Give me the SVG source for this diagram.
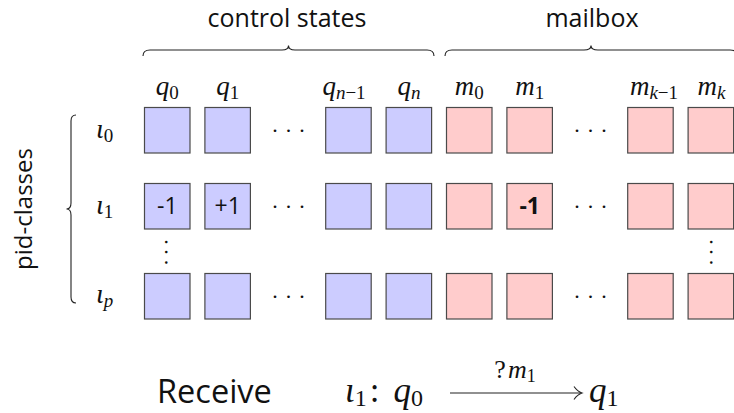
<svg xmlns="http://www.w3.org/2000/svg" width="734" height="413" viewBox="0 0 734 413">
<style>
.bq{fill:#ccccff;stroke:#4a4a4a;stroke-width:1.2}
.bm{fill:#ffcccc;stroke:#4a4a4a;stroke-width:1.2}
.sans{font-family:"Open Sans","DejaVu Sans",sans-serif;fill:#111}
.math{font-family:"Liberation Serif","DejaVu Serif",serif;font-style:italic;fill:#111}
.up{font-style:normal}
.dots{font-family:"Liberation Serif",serif;font-size:22px;fill:#111}
.br{fill:none;stroke:#222;stroke-width:1.1}
.cell{font-family:"Open Sans","DejaVu Sans",sans-serif;font-size:23px;fill:#111;text-anchor:middle}
</style>
<defs>
<rect id="b" width="45.5" height="45.5"/>
</defs>

<g id="headers">
<text class="sans" x="287" y="27" font-size="25" text-anchor="middle">control states</text>
<text class="sans" x="592" y="27" font-size="25" text-anchor="middle">mailbox</text>
<text class="sans" font-size="24" text-anchor="middle" transform="translate(32,209) rotate(-90)">pid-classes</text>
</g>

<g id="braces">
<path class="br" d="M143,56 Q143,50 150,50 L282,50 Q288.5,50 288.5,45.5 Q288.5,50 295,50 L427,50 Q434,50 434,56"/>
<path class="br" d="M445,56 Q445,50 452,50 L584,50 Q591,50 591,45.5 Q591,50 598,50 L730,50 Q737,50 737,56"/>
<path class="br" d="M76,115 Q71,115 71,121 L71,203 Q71,209 66.5,209 Q71,209 71,215 L71,297 Q71,303 76,303"/>
</g>

<g id="col-labels" font-size="27">
<text class="math" x="167.3" y="95" text-anchor="middle">q<tspan class="up" font-size="19" dy="4">0</tspan></text>
<text class="math" x="227.7" y="95" text-anchor="middle">q<tspan class="up" font-size="19" dy="4">1</tspan></text>
<text class="math" x="344" y="95" text-anchor="middle">q<tspan font-size="19" dy="4">n</tspan><tspan class="up" font-size="19">−1</tspan></text>
<text class="math" x="408.9" y="95" text-anchor="middle">q<tspan font-size="19" dy="4">n</tspan></text>
<text class="math" x="469.3" y="95" text-anchor="middle">m<tspan class="up" font-size="19" dy="4">0</tspan></text>
<text class="math" x="529.7" y="95" text-anchor="middle">m<tspan class="up" font-size="19" dy="4">1</tspan></text>
<text class="math" x="654" y="95" text-anchor="middle">m<tspan font-size="19" dy="4">k</tspan><tspan class="up" font-size="19">−1</tspan></text>
<text class="math" x="711.5" y="95" text-anchor="middle">m<tspan font-size="19" dy="4">k</tspan></text>
</g>

<g id="row-labels" font-size="28">
<text class="math" x="96" y="138">ι<tspan class="up" font-size="19" dy="4">0</tspan></text>
<text class="math" x="96" y="214">ι<tspan class="up" font-size="19" dy="4">1</tspan></text>
<text class="math" x="96" y="303">ι<tspan font-size="19" dy="4">p</tspan></text>
</g>

<g id="row0">
<use href="#b" class="bq" x="144.5" y="107.5"/>
<use href="#b" class="bq" x="204.9" y="107.5"/>
<use href="#b" class="bq" x="325.7" y="107.5"/>
<use href="#b" class="bq" x="386.1" y="107.5"/>
<use href="#b" class="bm" x="446.5" y="107.5"/>
<use href="#b" class="bm" x="506.9" y="107.5"/>
<use href="#b" class="bm" x="627.7" y="107.5"/>
<use href="#b" class="bm" x="688.1" y="107.5"/>
<text class="dots" x="272.3 285.8 299.3" y="132">...</text>
<text class="dots" x="574.3 587.8 601.3" y="132">...</text>
</g>

<g id="row1">
<use href="#b" class="bq" x="144.5" y="183.5"/>
<use href="#b" class="bq" x="204.9" y="183.5"/>
<use href="#b" class="bq" x="325.7" y="183.5"/>
<use href="#b" class="bq" x="386.1" y="183.5"/>
<use href="#b" class="bm" x="446.5" y="183.5"/>
<use href="#b" class="bm" x="506.9" y="183.5"/>
<use href="#b" class="bm" x="627.7" y="183.5"/>
<use href="#b" class="bm" x="688.1" y="183.5"/>
<text class="cell" x="167.3" y="214">-1</text>
<text class="cell" x="227.7" y="214">+1</text>
<text class="cell" x="529.7" y="214" font-weight="bold">-1</text>
<text class="dots" x="272.3 285.8 299.3" y="208">...</text>
<text class="dots" x="574.3 587.8 601.3" y="208">...</text>
</g>

<g id="vdots">
<text class="dots" x="0 10 20.5" y="0" transform="translate(165.4,239.25) rotate(90)">...</text>
<text class="dots" x="0 10 20.5" y="0" transform="translate(709.7,239.25) rotate(90)">...</text>
</g>

<g id="rowp">
<use href="#b" class="bq" x="144.5" y="273.5"/>
<use href="#b" class="bq" x="204.9" y="273.5"/>
<use href="#b" class="bq" x="325.7" y="273.5"/>
<use href="#b" class="bq" x="386.1" y="273.5"/>
<use href="#b" class="bm" x="446.5" y="273.5"/>
<use href="#b" class="bm" x="506.9" y="273.5"/>
<use href="#b" class="bm" x="627.7" y="273.5"/>
<use href="#b" class="bm" x="688.1" y="273.5"/>
<text class="dots" x="272.3 285.8 299.3" y="298">...</text>
<text class="dots" x="574.3 587.8 601.3" y="298">...</text>
</g>

<g id="receive">
<text class="sans" x="157" y="403" font-size="32.5">Receive</text>
<text class="math" x="345" y="402" font-size="35">ι<tspan class="up" font-size="24" dy="4">1</tspan><tspan class="up" dy="-4" dx="3">:</tspan><tspan dx="14">q</tspan><tspan class="up" font-size="24" dy="4">0</tspan></text>
<text class="math" x="515" y="378" font-size="26" text-anchor="middle"><tspan class="up">?</tspan><tspan dx="2">m</tspan><tspan class="up" font-size="18" dy="4">1</tspan></text>
<text class="math" x="589" y="402" font-size="35">q<tspan class="up" font-size="24" dy="4">1</tspan></text>
</g>

<g id="connectors">
<path class="br" stroke-width="1.3" d="M450,393 L581,393"/>
<path class="br" stroke-width="1.3" d="M574,386.5 Q577.5,391.5 582,393 Q577.5,394.5 574,399.5"/>
</g>
</svg>
